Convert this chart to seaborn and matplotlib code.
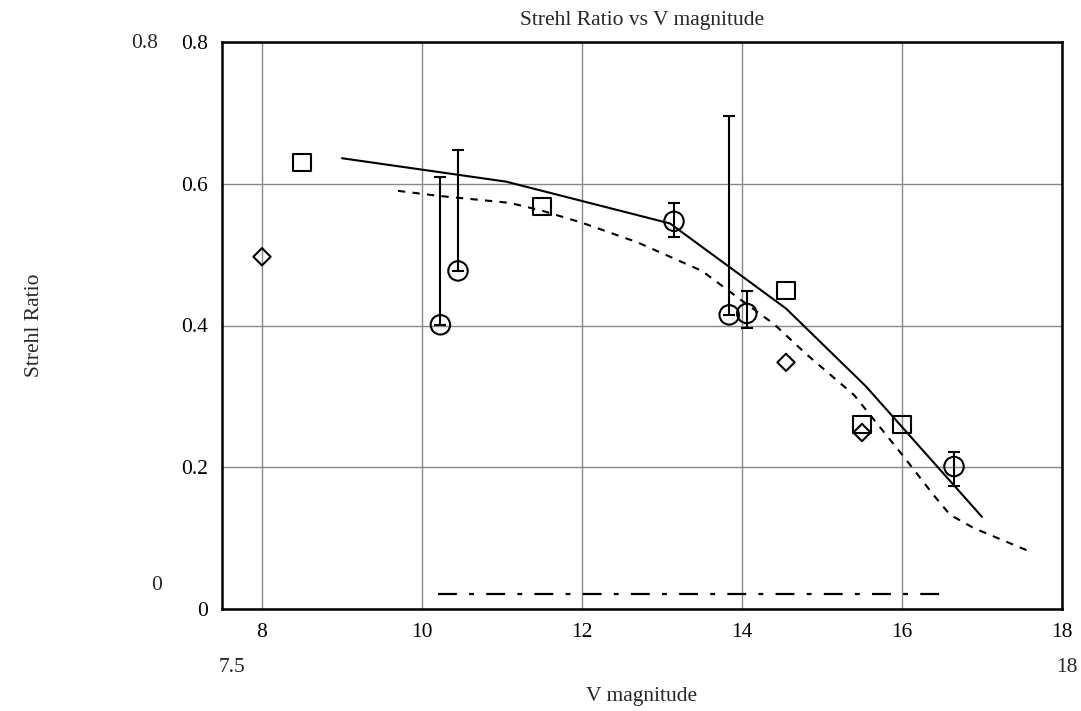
import matplotlib
matplotlib.use("Agg")
import matplotlib.pyplot as plt
import seaborn as sns
import numpy as np

# ---- data ----
solid_x = [9.0, 11.05, 13.1, 14.55, 15.55, 17.0]
solid_y = [0.636, 0.603, 0.544, 0.424, 0.314, 0.130]

dashed_x = [9.7, 10.2, 11.1, 11.5, 12.0, 12.7, 13.5, 14.0, 14.4, 14.8, 15.4, 16.0, 16.4, 16.6, 16.9, 17.6]
dashed_y = [0.590, 0.583, 0.573, 0.562, 0.545, 0.517, 0.477, 0.435, 0.402, 0.360, 0.302, 0.218, 0.160, 0.133, 0.114, 0.081]

dashdot_x = [10.2, 16.6]
dashdot_y = [0.021, 0.021]

square_x = [8.5, 11.5, 14.55, 15.5, 16.0]
square_y = [0.630, 0.568, 0.449, 0.260, 0.260]

diamond_x = [8.0, 14.55, 15.5]
diamond_y = [0.497, 0.348, 0.249]

circle_x = [10.23, 10.45, 13.15, 13.84, 14.06, 16.65]
circle_y = [0.401, 0.477, 0.547, 0.415, 0.417, 0.201]
err_lo = [0.0, 0.0, 0.022, 0.0, 0.020, 0.027]
err_hi = [0.209, 0.171, 0.026, 0.281, 0.031, 0.020]

x_ticks = [8, 10, 12, 14, 16, 18]
y_ticks = [0, 0.2, 0.4, 0.6, 0.8]
y_tick_labels = ["0", "0.2", "0.4", "0.6", "0.8"]

# ---- style ----
sns.set_style("white")
plt.rcParams['font.family'] = ['Liberation Serif', 'DejaVu Serif']

fig = plt.figure(figsize=(10.81, 7.11), dpi=100)
ax = fig.add_axes([222/1081, 1 - 609/711, 840/1081, 567/711])

FS = 15.5

sns.lineplot(x=solid_x, y=solid_y, ax=ax, color='black', linewidth=1.5, sort=False)
sns.lineplot(x=dashed_x, y=dashed_y, ax=ax, color='black', linewidth=1.5,
             linestyle=(0, (3.5, 3.5)), sort=False)
sns.lineplot(x=dashdot_x, y=dashdot_y, ax=ax, color='black', linewidth=1.6,
             linestyle=(0, (8.5, 5.5, 2.2, 5.5)), sort=False)

ax.errorbar(circle_x, circle_y, yerr=[err_lo, err_hi], fmt='none', ecolor='black',
            elinewidth=1.5, capsize=4.5, capthick=1.5, zorder=3)

sns.scatterplot(x=square_x, y=square_y, ax=ax, marker='s', s=12.5**2,
                facecolor='none', edgecolor='black', linewidth=1.5, zorder=4)
sns.scatterplot(x=diamond_x, y=diamond_y, ax=ax, marker='D', s=8.8**2,
                facecolor='none', edgecolor='black', linewidth=1.5, zorder=4)
sns.scatterplot(x=circle_x, y=circle_y, ax=ax, marker='o', s=14**2,
                facecolor='none', edgecolor='black', linewidth=1.5, zorder=4)

ax.set_xlim(7.5, 18)
ax.set_ylim(0, 0.8)
ax.set_xticks(x_ticks)
ax.set_yticks(y_ticks)
ax.set_yticklabels(y_tick_labels)
ax.tick_params(axis='both', length=0, labelsize=FS, pad=10, colors='black')

ax.grid(True, color='#888888', linewidth=1.0)
ax.set_axisbelow(True)
for sp in ax.spines.values():
    sp.set_color('black')
    sp.set_linewidth(1.8)

ax.set_title("Strehl Ratio vs V magnitude", fontsize=FS, pad=12)
ax.set_xlabel("V magnitude", fontsize=FS)
ax.xaxis.set_label_coords(0.5, -0.138)
ax.set_ylabel("Strehl Ratio", fontsize=FS)
ax.yaxis.set_label_coords(-0.212, 0.5)

# stray secondary-axis labels
fig.text(145/1081, 1 - 43/711, "0.8", fontsize=FS, ha='center', va='center')
fig.text(157/1081, 1 - 585/711, "0", fontsize=FS, ha='center', va='center')
fig.text(232/1081, 1 - 668/711, "7.5", fontsize=FS, ha='center', va='center')
fig.text(1067/1081, 1 - 667/711, "18", fontsize=FS, ha='center', va='center')

fig.savefig("out.png", dpi=100)
